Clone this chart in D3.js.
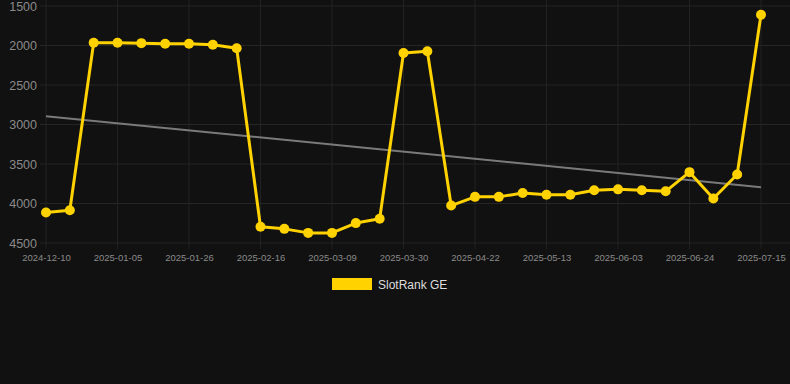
<!DOCTYPE html>
<html><head><meta charset="utf-8">
<script src="https://cdn.jsdelivr.net/npm/d3@7/dist/d3.min.js"></script>
<style>
html,body{margin:0;padding:0;background:#111111;}
svg{display:block;font-family:"Liberation Sans",Arial,Helvetica,sans-serif;}
</style></head><body>
<svg id="c" width="790" height="384"></svg>
<script>
const dates = ["2024-12-10","2024-12-22","2024-12-29","2025-01-05","2025-01-12","2025-01-19","2025-01-26","2025-02-02","2025-02-09","2025-02-16","2025-02-23","2025-03-02","2025-03-09","2025-03-16","2025-03-23","2025-03-30","2025-04-06","2025-04-14","2025-04-22","2025-04-29","2025-05-06","2025-05-13","2025-05-20","2025-05-27","2025-06-03","2025-06-10","2025-06-17","2025-06-24","2025-07-01","2025-07-08","2025-07-15"];
const ranks = [4115,4086,1965,1965,1970,1978,1978,1991,2035,4295,4321,4372,4372,4248,4192,2094,2073,4026,3916,3916,3868,3890,3890,3833,3821,3833,3846,3603,3936,3633,1611];
const yTicks = [1500,2000,2500,3000,3500,4000,4500];
const seriesName = "SlotRank GE";

const svg = d3.select("#c");
const W = 790, H = 384;
const plotL = 40, plotR = 790, plotT = 6, plotB = 243;
const x = d3.scalePoint().domain(dates).range([46, 761]);
const y = d3.scaleLinear().domain([1500, 4500]).range([plotT, plotB]);
const gold = "#FFD200";

// horizontal grid
svg.append("g").selectAll("line").data(yTicks).join("line")
  .attr("x1", plotL).attr("x2", plotR)
  .attr("y1", d => y(d)).attr("y2", d => y(d))
  .attr("stroke", "#252525").attr("stroke-width", 1);
// vertical grid at labelled ticks
const shown = dates.filter((d, i) => i % 3 === 0);
svg.append("g").selectAll("line").data(shown).join("line")
  .attr("x1", d => x(d)).attr("x2", d => x(d))
  .attr("y1", 0).attr("y2", plotB + 6)
  .attr("stroke", "#222222").attr("stroke-width", 1);

// y axis labels
const yAxis = d3.axisLeft(y).tickValues(yTicks).tickSize(0).tickPadding(0).tickFormat(d3.format("d"));
const gy = svg.append("g").attr("transform", "translate(37,0)").call(yAxis);
gy.select(".domain").remove();
gy.selectAll("text").attr("fill", "#8a8a8a").style("font-size", "12.5px")
  .style("font-family", "'Liberation Sans',Arial,sans-serif");

// x axis labels
const xAxis = d3.axisBottom(x).tickValues(shown).tickSize(0).tickPadding(0);
const gx = svg.append("g").attr("transform", `translate(0,${plotB + 11})`).call(xAxis);
gx.select(".domain").remove();
gx.selectAll("text").attr("fill", "#8a8a8a").style("font-size", "9.5px")
  .style("font-family", "'Liberation Sans',Arial,sans-serif");

// trend line (least squares over index)
const n = ranks.length;
const xs = d3.range(n);
const mx = d3.mean(xs), my = d3.mean(ranks);
const slope = d3.sum(xs, i => (i - mx) * (ranks[i] - my)) / d3.sum(xs, i => (i - mx) ** 2);
const icpt = my - slope * mx;
svg.append("line")
  .attr("x1", x(dates[0])).attr("y1", y(icpt))
  .attr("x2", x(dates[n - 1])).attr("y2", y(icpt + slope * (n - 1)))
  .attr("stroke", "#7a7a7a").attr("stroke-width", 2);

// series line
const line = d3.line().x((d, i) => x(dates[i])).y(d => y(d));
svg.append("path").datum(ranks).attr("d", line)
  .attr("fill", "none").attr("stroke", gold).attr("stroke-width", 3)
  .attr("stroke-linejoin", "round");
svg.append("g").selectAll("circle").data(ranks).join("circle")
  .attr("cx", (d, i) => x(dates[i])).attr("cy", d => y(d)).attr("r", 5)
  .attr("fill", gold);

// legend
const lg = svg.append("g");
lg.append("rect").attr("x", 332).attr("y", 278).attr("width", 40).attr("height", 12).attr("fill", gold);
lg.append("text").attr("x", 378).attr("y", 288.5).text(seriesName)
  .attr("fill", "#dddddd").style("font-size", "12px");
</script>
</body></html>
